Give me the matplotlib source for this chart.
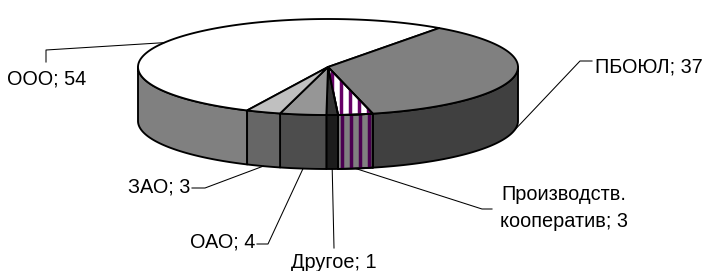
import numpy as np
import matplotlib
matplotlib.use("Agg")
import matplotlib.pyplot as plt
from matplotlib.patches import Polygon

plt.rcParams['font.family'] = ['Liberation Sans', 'DejaVu Sans']

# ---- data ----
labels = ["ООО", "ПБОЮЛ", "Производств.\nкооператив", "Другое", "ОАО", "ЗАО"]
values = [54, 37, 3, 1, 4, 3]

# ---- style ----
top_colors = ["#ffffff", "#808080", "#ffffff", "#333333", "#969696", "#c0c0c0"]
side_colors = ["#808080", "#404040", "#808080", "#1c1c1c", "#4d4d4d", "#666666"]
stripe_color_top = "#660066"
stripe_color_side = "#4a0050"

# ---- layout (pixel coords) ----
W, H = 707, 271
CX, CY, RA, RB, DEPTH = 328.0, 67.0, 190.0, 48.0, 54.0
START = 244.8  # parametric angle where the first slice starts (clockwise order)

label_layout = [
    dict(xy=(7, 79), ha="left", elbow=[(46, 50), (46, 62)], rim="top"),
    dict(xy=(595, 67), ha="left", elbow=[(580, 61), (592, 61)], rim="bottom"),
    dict(xy=(564, 208), ha="center", elbow=[(482, 209), (492, 209)], rim="bottom"),
    dict(xy=(334, 263), ha="center", elbow=[(334, 248)], rim="bottom"),
    dict(xy=(255, 242), ha="right", elbow=[(268, 244), (257, 244)], rim="bottom"),
    dict(xy=(190, 187), ha="right", elbow=[(205, 188), (192, 188)], rim="bottom"),
]

fig = plt.figure(figsize=(W / 100, H / 100), dpi=100)
ax = fig.add_axes([0, 0, 1, 1])
ax.set_xlim(0, W)
ax.set_ylim(H, 0)
ax.axis("off")

vals = np.array(values, dtype=float)
spans = vals / vals.sum() * 360.0
ends = START - np.cumsum(spans)
starts = ends + spans  # slice i covers [ends[i], starts[i]]


def rim(theta_deg, dy=0.0):
    t = np.radians(theta_deg)
    return CX + RA * np.cos(t), CY - RB * np.sin(t) + dy


LW = 1.35
STRIPE_PERIOD = 9.0
STRIPE_LW = 2.5

# side walls (front half only)
for i in range(len(vals)):
    lo, hi = ends[i], starts[i]
    for shift in (-360, 0, 360):
        a0, a1 = lo + shift, hi + shift
        s0, s1 = max(a0, -180.0), min(a1, 0.0)
        if s1 - s0 > 1e-6:
            th = np.linspace(s0, s1, 80)
            xt, yt = rim(th)
            xb, yb = rim(th[::-1], DEPTH)
            pts = np.column_stack([np.r_[xt, xb], np.r_[yt, yb]])
            poly = Polygon(pts, closed=True, facecolor=side_colors[i],
                           edgecolor="black", lw=LW, joinstyle="round", zorder=2)
            ax.add_patch(poly)
            if i == 2:
                xs = np.arange(pts[:, 0].min() + 4, pts[:, 0].max(), STRIPE_PERIOD)
                for x in xs:
                    ln, = ax.plot([x, x], [0, H], color=stripe_color_side, lw=STRIPE_LW,
                                  solid_capstyle="butt", zorder=2.5)
                    ln.set_clip_path(poly)
                ax.add_patch(Polygon(pts, closed=True, fill=False, edgecolor="black",
                                     lw=LW, zorder=2.6))

# top faces
for i in range(len(vals)):
    th = np.linspace(starts[i], ends[i], 200)
    x, y = rim(th)
    pts = np.column_stack([np.r_[CX, x], np.r_[CY, y]])
    poly = Polygon(pts, closed=True, facecolor=top_colors[i], edgecolor="black",
                   lw=LW, joinstyle="round", zorder=3)
    ax.add_patch(poly)
    if i == 2:
        xs = np.arange(pts[:, 0].min() + 4, pts[:, 0].max(), STRIPE_PERIOD)
        for xx in xs:
            ln, = ax.plot([xx, xx], [0, H], color=stripe_color_top, lw=STRIPE_LW,
                          solid_capstyle="butt", zorder=3.5)
            ln.set_clip_path(poly)
        ax.add_patch(Polygon(pts, closed=True, fill=False, edgecolor="black",
                             lw=LW, zorder=3.6))

# labels with leader lines
for i, lab in enumerate(labels):
    lay = label_layout[i]
    mid = (starts[i] + ends[i]) / 2.0
    ax_, ay_ = rim(mid, DEPTH if lay["rim"] == "bottom" else 0.0)
    px = [ax_] + [p[0] for p in lay["elbow"]]
    py = [ay_] + [p[1] for p in lay["elbow"]]
    ax.plot(px, py, color="black", lw=0.75, zorder=4)
    ax.text(lay["xy"][0], lay["xy"][1], f"{lab}; {values[i]}", ha=lay["ha"],
            va="center", fontsize=14.3, color="black", linespacing=1.5,
            multialignment="center", zorder=5)

fig.savefig("out.png", dpi=100, facecolor="white")
